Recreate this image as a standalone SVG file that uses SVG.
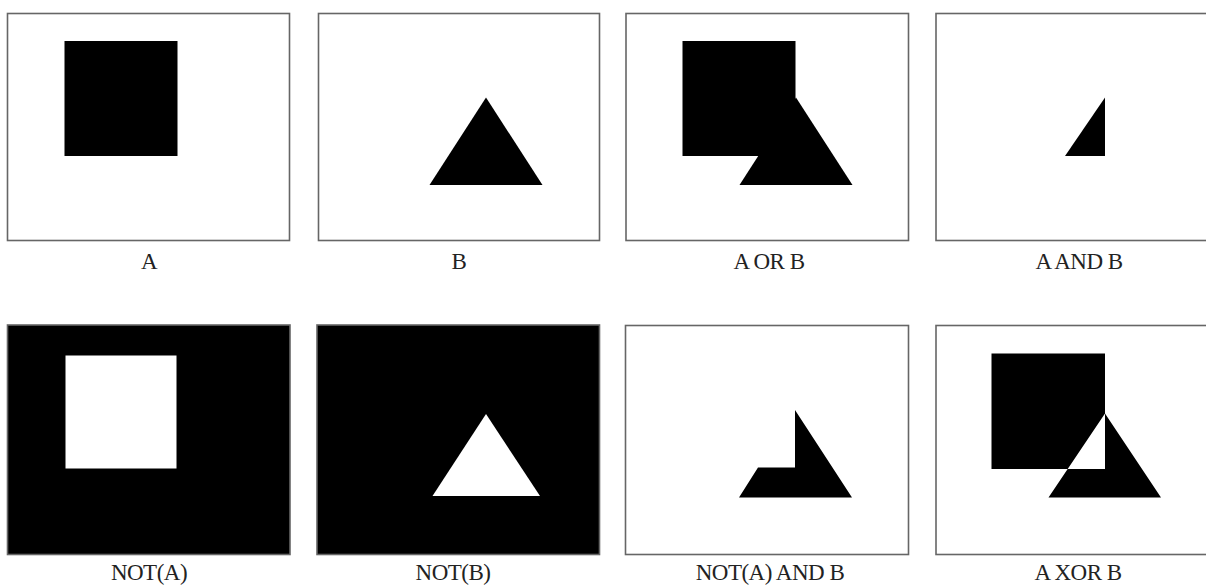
<svg xmlns="http://www.w3.org/2000/svg" width="1206" height="585" viewBox="0 0 1206 585">
<style>
.frame{fill:#fff;stroke:#666;stroke-width:1.6}
.inv{fill:#000;stroke:#666;stroke-width:1.6}
.blk{fill:#000}
.wht{fill:#fff}
.lbl{font-family:"Liberation Serif","Times New Roman",serif;font-size:23px;fill:#222;text-anchor:middle;letter-spacing:-0.5px}
</style>
<rect width="1206" height="585" fill="#fff"/>
<g id="panel-a">
<rect class="frame" x="7.5" y="13.5" width="282" height="227"/>
<rect class="blk" x="64.5" y="41" width="113" height="115"/>
<text class="lbl" x="149" y="269">A</text>
</g>
<g id="panel-b">
<rect class="frame" x="318.5" y="13.5" width="281" height="227"/>
<polygon class="blk" points="486,97.5 429.5,185 542.5,185"/>
<text class="lbl" x="459" y="269">B</text>
</g>
<g id="panel-a-or-b">
<rect class="frame" x="626" y="13.5" width="282.5" height="227"/>
<rect class="blk" x="682.5" y="41" width="113" height="115"/>
<polygon class="blk" points="796,97.5 739.5,185 852.5,185"/>
<text class="lbl" x="769" y="269">A OR B</text>
</g>
<g id="panel-a-and-b">
<rect class="frame" x="936" y="13.5" width="290" height="227"/>
<polygon class="blk" points="1105,97.5 1065,156 1105,156"/>
<text class="lbl" x="1079" y="269">A AND B</text>
</g>
<g id="panel-not-a">
<rect class="inv" x="7.5" y="325" width="282.5" height="229.5"/>
<rect class="wht" x="65.5" y="355.5" width="111" height="113"/>
<text class="lbl" x="149" y="580">NOT(A)</text>
</g>
<g id="panel-not-b">
<rect class="inv" x="317" y="325" width="282.5" height="229.5"/>
<polygon class="wht" points="486,414 432.5,496 540,496"/>
<text class="lbl" x="453" y="580">NOT(B)</text>
</g>
<g id="panel-not-a-and-b">
<rect class="frame" x="625.5" y="325.5" width="283" height="229"/>
<polygon class="blk" points="795,410 795,467.5 758,467.5 739,497.5 852,497.5"/>
<text class="lbl" x="770" y="580">NOT(A) AND B</text>
</g>
<g id="panel-a-xor-b">
<rect class="frame" x="936" y="325.5" width="290" height="229"/>
<path class="blk" fill-rule="evenodd" d="M991.5,353.5 H1105 V469 H991.5 Z M1105,413.5 L1048.5,497.5 L1161,497.5 Z"/>
<text class="lbl" x="1078" y="580">A XOR B</text>
</g>
<g id="connectors"></g>
</svg>
